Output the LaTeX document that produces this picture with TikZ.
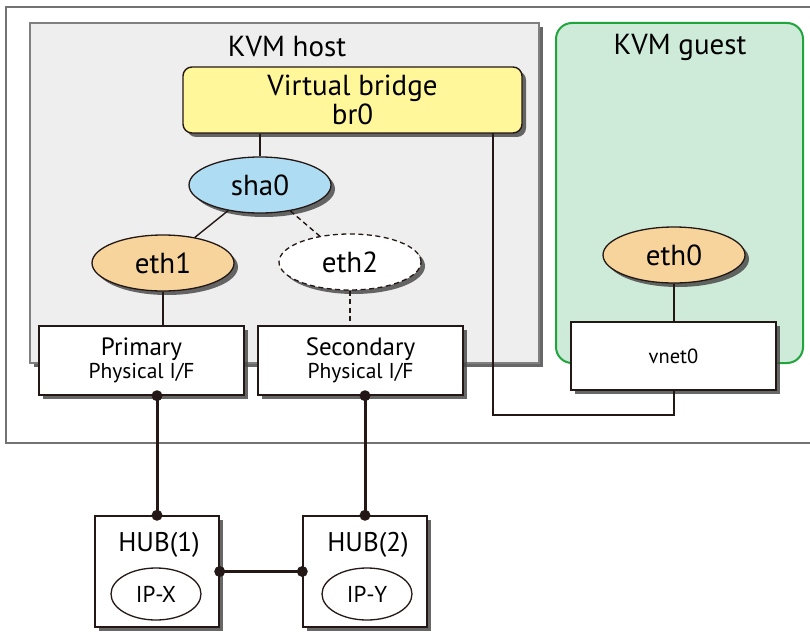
\documentclass[tikz,border=0pt]{standalone}
\usepackage{fontspec}
\setmainfont{PT Sans}
\usetikzlibrary{shapes.geometric,shadows}
\definecolor{hostfill}{HTML}{EEEEEE}
\definecolor{guestfill}{HTML}{CDEBD8}
\definecolor{guestline}{HTML}{1FA53C}
\definecolor{bridgefill}{HTML}{FFF799}
\definecolor{shafill}{HTML}{AEDDF3}
\definecolor{ethfill}{HTML}{F7D49B}
\definecolor{linkcol}{HTML}{231815}

\begin{document}
\begin{tikzpicture}[x=1pt,y=-1pt]
		\tikzset{
			shade/.style={drop shadow={shadow xshift=4pt,shadow yshift=-4pt,fill=black!70,opacity=0.85}},
			hostbox/.style={draw=black!50,line width=1.5pt,fill=hostfill,inner sep=0pt,shade},
			guestbox/.style={draw=guestline,line width=2pt,fill=guestfill,rounded corners=16pt,inner sep=0pt},
			ifbox/.style={draw=linkcol,line width=1.4pt,fill=white,inner sep=0pt,minimum width=205pt,minimum height=69pt,align=center,shade},
			nic/.style={ellipse,draw=linkcol,line width=1.3pt,inner sep=0pt,minimum width=142pt,minimum height=56pt,font=\fontsize{29}{32}\selectfont,shade},
			hubbox/.style={draw=linkcol,line width=1.4pt,fill=white,inner sep=0pt,minimum width=124pt,minimum height=111pt,shade},
			ipnode/.style={ellipse,draw=linkcol,line width=1.3pt,inner sep=0pt,minimum width=90pt,minimum height=52pt,font=\fontsize{23}{26}\selectfont},
			title/.style={font=\fontsize{29}{32}\selectfont},
			wire/.style={draw=linkcol,line width=1.4pt},
			standby/.style={dash pattern=on 5pt off 3.5pt},
			cable/.style={draw=linkcol,line width=3pt},
			dot/.style={fill=linkcol}
		}
		
		\useasboundingbox (0,0) rectangle (810,631);
		\clip (0,0) rectangle (810,631);
		
		\node[draw=black!55,line width=1.5pt,minimum width=830pt,minimum height=436pt,inner sep=0pt] (frame) at (421,225) {};
		
		\node[hostbox,minimum width=509pt,minimum height=340pt] (host) at (284.5,193) {};
		\node[title] (hostlbl) at (287,47) {KVM host};
		\node[guestbox,minimum width=247pt,minimum height=340pt] (guest) at (679.5,193) {};
		\node[title] (guestlbl) at (680,47) {KVM guest};
		
		\node[draw=linkcol,line width=1.4pt,fill=bridgefill,rounded corners=9pt,minimum width=339pt,minimum height=66pt,inner sep=0pt,align=center,font=\fontsize{29}{29}\selectfont,shade] (br) at (352.5,100) {Virtual bridge\\br0};
		
		\node[nic,fill=shafill] (sha) at (260,185) {sha0};
		\node[nic,fill=ethfill] (ethA) at (163,263) {eth1};
		\node[nic,fill=white,standby] (ethB) at (350,262) {eth2};
		\node[nic,fill=ethfill] (ethG) at (674,255) {eth0};
		
		\node[ifbox] (prim) at (141.5,360.5) {\fontsize{25}{28}\selectfont Primary\\[1pt]\fontsize{21.5}{24}\selectfont Physical I/F};
		\node[ifbox] (sec) at (360.5,360.5) {\fontsize{25}{28}\selectfont Secondary\\[1pt]\fontsize{21.5}{24}\selectfont Physical I/F};
		\node[ifbox,minimum height=68pt,font=\fontsize{20.5}{24}\selectfont] (vnet) at (673.5,356) {vnet0};
		
		\node[hubbox] (hubA) at (157,571.5) {};
		\node[hubbox] (hubB) at (365,571.5) {};
		\node[font=\fontsize{27}{30}\selectfont] (hubAlbl) at (159,545) {HUB(1)};
		\node[font=\fontsize{27}{30}\selectfont] (hubBlbl) at (368,545) {HUB(2)};
		\node[ipnode] (ipx) at (156,594) {IP-X};
		\node[ipnode] (ipy) at (367,594) {IP-Y};
		
		% links inside the hosts
		\draw[wire] (sha) -- (sha |- br.south);
		\draw[wire] (sha) -- (ethA);
		\draw[wire,standby] (sha) -- (ethB);
		\draw[wire] (ethA) -- (ethA |- prim.north);
		\draw[wire,standby] (ethB) -- (ethB |- sec.north);
		\draw[wire] (ethG) -- (ethG |- vnet.north);
		
		\coordinate (brdown) at (493,133);
		\coordinate (brturn) at (493,415);
		\draw[wire,line width=2pt] (brdown) -- (brturn) -| (vnet.south);
		
		% cables to the hubs
		\draw[cable] (hubA.north) -- (hubA.north |- prim.south);
		\draw[cable] (hubB.north) -- (hubB.north |- sec.south);
		\draw[cable] (hubA.east) -- (hubB.west);
		
		\fill[dot] (hubA.north) circle (5.5);
		\fill[dot] (hubA.north |- prim.south) circle (5.5);
		\fill[dot] (hubB.north) circle (5.5);
		\fill[dot] (hubB.north |- sec.south) circle (5.5);
		\fill[dot] (hubA.east) circle (5.5);
		\fill[dot] (hubB.west) circle (5.5);
		
	\end{tikzpicture}
\end{document}
